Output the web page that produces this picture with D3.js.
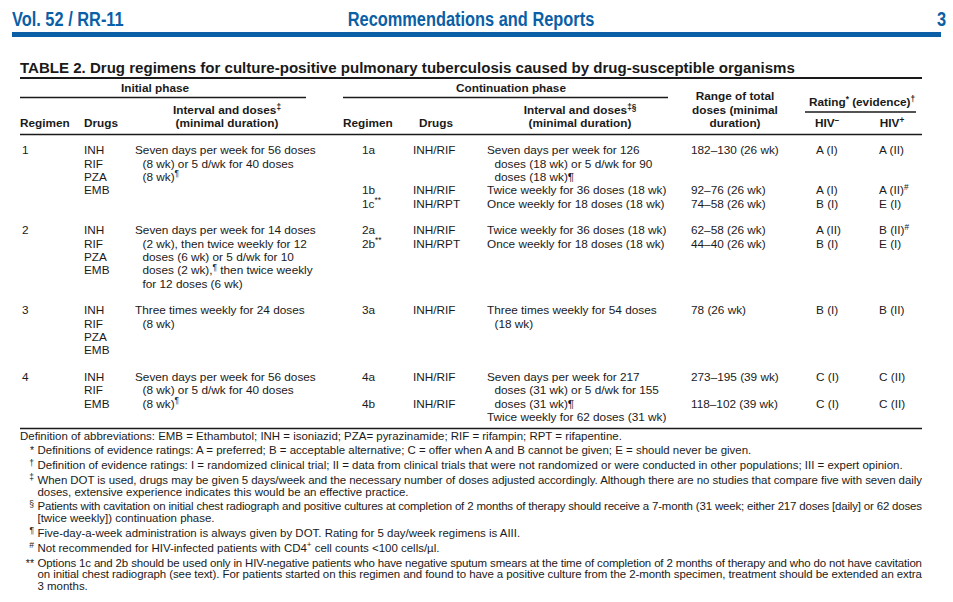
<!DOCTYPE html>
<html><head><meta charset="utf-8">
<script src="https://cdn.jsdelivr.net/npm/d3@7"></script>
<style>body{margin:0;background:#fff} svg{display:block}</style>
</head><body><svg id="c" width="953" height="602"></svg>
<script>
// ---------------- DATA ----------------
const pageHeader = ["Vol. 52 / RR-11", "Recommendations and Reports", "3"];
const tableTitle = "TABLE 2. Drug regimens for culture-positive pulmonary tuberculosis caused by drug-susceptible organisms";
const phaseLabels = ["Initial phase", "Continuation phase"];
const headInitial = [["Regimen"], ["Drugs"], ["Interval and doses{‡}", "(minimal duration)"]];
const headContinuation = [["Regimen"], ["Drugs"], ["Interval and doses{‡§}", "(minimal duration)"]];
const headRange = ["Range of total", "doses (minimal", "duration)"];
const headRating = "Rating{*} (evidence){†}";
const headHIV = ["HIV{–}", "HIV{+}"];

const regimens = ["1", "2", "3", "4"];
const initialDrugs = [["INH","RIF","PZA","EMB"], ["INH","RIF","PZA","EMB"], ["INH","RIF","PZA","EMB"], ["INH","RIF","EMB"]];
const initialIntervals = [
  ["Seven days per week for 56 doses", "(8 wk) or 5 d/wk for 40 doses", "(8 wk){¶}"],
  ["Seven days per week for 14 doses", "(2 wk), then twice weekly for 12", "doses (6 wk) or 5 d/wk for 10", "doses (2 wk),{¶} then twice weekly", "for 12 doses (6 wk)"],
  ["Three times weekly for 24 doses", "(8 wk)"],
  ["Seven days per week for 56 doses", "(8 wk) or 5 d/wk for 40 doses", "(8 wk){¶}"]
];
const contRegimens = [["1a","1b","1c{**}"], ["2a","2b{**}"], ["3a"], ["4a","4b"]];
const contDrugs = [["INH/RIF","INH/RIF","INH/RPT"], ["INH/RIF","INH/RPT"], ["INH/RIF"], ["INH/RIF","INH/RIF"]];
const contIntervals = [
  [["Seven days per week for 126", "doses (18 wk) or 5 d/wk for 90", "doses (18 wk)¶"], ["Twice weekly for 36 doses (18 wk)"], ["Once weekly for 18 doses (18 wk)"]],
  [["Twice weekly for 36 doses (18 wk)"], ["Once weekly for 18 doses (18 wk)"]],
  [["Three times weekly for 54 doses", "(18 wk)"]],
  [["Seven days per week for 217", "doses (31 wk) or 5 d/wk for 155", "doses (31 wk)¶"], ["Twice weekly for 62 doses (31 wk)"]]
];
const totalDoses = [["182–130 (26 wk)","92–76 (26 wk)","74–58 (26 wk)"], ["62–58 (26 wk)","44–40 (26 wk)"], ["78 (26 wk)"], ["273–195 (39 wk)","118–102 (39 wk)"]];
const ratingHIVneg = [["A (I)","A (I)","B (I)"], ["A (II)","B (I)"], ["B (I)"], ["C (I)","C (I)"]];
const ratingHIVpos = [["A (II)","A (II){#}","E (I)"], ["B (II){#}","E (I)"], ["B (II)"], ["C (II)","C (II)"]];
// line (within a regimen block) on which each continuation option's label / interval starts
const contLabelLine = [[0,3,4], [0,1], [0], [0,2]];
const contIntervalLine = [[0,3,4], [0,1], [0], [0,3]];

const footSymbols = ["", "*", "†", "‡", "§", "¶", "#", "**"];
const footTexts = [
  ["Definition of abbreviations: EMB = Ethambutol; INH = isoniazid; PZA= pyrazinamide; RIF = rifampin; RPT = rifapentine."],
  ["Definitions of evidence ratings: A = preferred; B = acceptable alternative; C = offer when A and B cannot be given; E = should never be given."],
  ["Definition of evidence ratings: I = randomized clinical trial; II = data from clinical trials that were not randomized or were conducted in other populations; III = expert opinion."],
  ["When DOT is used, drugs may be given 5 days/week and the necessary number of doses adjusted accordingly. Although there are no studies that compare five with seven daily", "doses, extensive experience indicates this would be an effective practice."],
  ["Patients with cavitation on initial chest radiograph and positive cultures at completion of 2 months of therapy should receive a 7-month (31 week; either 217 doses [daily] or 62 doses", "[twice weekly]) continuation phase."],
  ["Five-day-a-week administration is always given by DOT. Rating for 5 day/week regimens is AIII."],
  ["Not recommended for HIV-infected patients with CD4{+} cell counts <100 cells/µl."],
  ["Options 1c and 2b should be used only in HIV-negative patients who have negative sputum smears at the time of completion of 2 months of therapy and who do not have cavitation", "on initial chest radiograph (see text). For patients started on this regimen and found to have a positive culture from the 2-month specimen, treatment should be extended an extra", "3 months."]
];

// ---------------- LAYOUT ----------------
const svg = d3.select("#c");
svg.append("rect").attr("width", 953).attr("height", 602).attr("fill", "#fff");
const BLUE = "#0a5fa6", INK = "#1a1a1a";
const FONT = "'Liberation Sans', Arial, Helvetica, sans-serif";
const L = 20, R = 922;

function rich(sel, str, size) {
  const parts = str.split(/(\{[^}]*\})/).filter(s => s.length);
  let up = false;
  parts.forEach(p => {
    if (p[0] === "{") {
      sel.append("tspan").attr("font-size", size * 0.7).attr("dy", -size * 0.38).text(p.slice(1, -1));
      up = true;
    } else {
      const t = sel.append("tspan").text(p);
      if (up) { t.attr("dy", size * 0.38); up = false; }
    }
  });
}
function txt(g, x, y, str, opt = {}) {
  const size = opt.size || 11.2;
  const t = g.append("text").attr("x", x).attr("y", y)
    .attr("font-family", FONT).attr("font-size", size)
    .attr("font-weight", opt.bold ? "bold" : "normal")
    .attr("fill", opt.fill || INK)
    .attr("text-anchor", opt.anchor || "start");
  rich(t, str, size);
  return t;
}
function measure(str, size, bold) {
  const t = svg.append("text").attr("font-family", FONT).attr("font-size", size)
    .attr("font-weight", bold ? "bold" : "normal").text(str);
  const w = t.node().getComputedTextLength(); t.remove(); return w;
}

// calibrated sizes (width-fitting to the reference)
const BODY = 12 * 181 / measure("Seven days per week for 56 doses", 12, false);
const TITLE = 14 * 775 / measure(tableTitle, 14, true);

// page header
const hdr = svg.append("g");
const hx = d3.scaleOrdinal().domain(pageHeader).range([12, 471, 946]);
const hAnchor = ["start", "middle", "end"];
pageHeader.forEach((s, i) => {
  const t = txt(hdr, 0, 0, s, {size: 21, bold: true, fill: BLUE, anchor: hAnchor[i]});
  t.attr("transform", `translate(${hx(s)},26) scale(0.78,1)`);
});
hdr.append("rect").attr("x", 12).attr("y", 32).attr("width", 929).attr("height", 5).attr("fill", BLUE);

// title
txt(svg, L, 73, tableTitle, {size: TITLE, bold: true});
svg.append("line").attr("x1", L).attr("x2", R).attr("y1", 78).attr("y2", 78).attr("stroke", INK).attr("stroke-width", 2);

// column headers
const H = svg.append("g");
const hb = {size: BODY, bold: true};
txt(H, 155, 92, phaseLabels[0], {...hb, anchor: "middle"});
txt(H, 511, 92, phaseLabels[1], {...hb, anchor: "middle"});
H.append("line").attr("x1", L).attr("x2", 306).attr("y1", 97.5).attr("y2", 97.5).attr("stroke", INK).attr("stroke-width", 1.3);
H.append("line").attr("x1", 343).attr("x2", 668).attr("y1", 97.5).attr("y2", 97.5).attr("stroke", INK).attr("stroke-width", 1.3);
const colX = {reg: 20, drugs: 84, intv: 135, creg: 362, cdrugs: 413, cintv: 487, range: 691, neg: 816, pos: 879};
txt(H, 20, 127, headInitial[0][0], hb);
txt(H, 84, 127, headInitial[1][0], hb);
headInitial[2].forEach((s, i) => txt(H, 227, 114 + i * 13, s, {...hb, anchor: "middle"}));
txt(H, 343, 127, headContinuation[0][0], hb);
txt(H, 419, 127, headContinuation[1][0], hb);
headContinuation[2].forEach((s, i) => txt(H, 580, 114 + i * 13, s, {...hb, anchor: "middle"}));
headRange.forEach((s, i) => txt(H, 735, 100 + i * 13.5, s, {...hb, anchor: "middle"}));
txt(H, 862, 106, headRating, {...hb, anchor: "middle"});
H.append("line").attr("x1", 805).attr("x2", 916).attr("y1", 112).attr("y2", 112).attr("stroke", INK).attr("stroke-width", 1.3);
txt(H, 827, 127, headHIV[0], {...hb, anchor: "middle"});
txt(H, 892, 127, headHIV[1], {...hb, anchor: "middle"});
svg.append("line").attr("x1", L).attr("x2", R).attr("y1", 134.5).attr("y2", 134.5).attr("stroke", INK).attr("stroke-width", 1.5);

// body
const LH = 13.33;
const rowLines = regimens.map((r, i) => Math.max(
  initialDrugs[i].length, initialIntervals[i].length,
  d3.max(contIntervals[i], (c, j) => contIntervalLine[i][j] + c.length)));
const rowStart = [];
rowLines.reduce((acc, n, i) => { rowStart[i] = acc; return acc + n + 1; }, 0);
const yLine = d3.scaleLinear().domain([0, 1]).range([154.3, 154.3 + LH]);
const bo = {size: BODY};
const body = svg.append("g");
regimens.forEach((r, i) => {
  const s0 = rowStart[i];
  txt(body, 22, yLine(s0), r, bo);
  initialDrugs[i].forEach((d, k) => txt(body, colX.drugs, yLine(s0 + k), d, bo));
  initialIntervals[i].forEach((d, k) => txt(body, k ? colX.intv + 7.5 : colX.intv, yLine(s0 + k), d, bo));
  contRegimens[i].forEach((c, j) => {
    const ly = yLine(s0 + contLabelLine[i][j]);
    txt(body, colX.creg, ly, c, bo);
    txt(body, colX.cdrugs, ly, contDrugs[i][j], bo);
    txt(body, colX.range, ly, totalDoses[i][j], bo);
    txt(body, colX.neg, ly, ratingHIVneg[i][j], bo);
    txt(body, colX.pos, ly, ratingHIVpos[i][j], bo);
    contIntervals[i][j].forEach((d, k) => txt(body, k ? colX.cintv + 7.5 : colX.cintv, yLine(s0 + contIntervalLine[i][j] + k), d, bo));
  });
});
svg.append("line").attr("x1", L).attr("x2", R).attr("y1", 428.5).attr("y2", 428.5).attr("stroke", INK).attr("stroke-width", 1.5);

// footnotes (condensed, justified wrap lines)
const FS = 11.4;
const SX = 602 / measure(footTexts[0][0], FS, false);
const FX = 37.5;
const foot = svg.append("g");
let fy = 439.5;
footTexts.forEach((lines, i) => {
  const sym = footSymbols[i];
  const tx = sym ? FX : 20;
  if (sym) {
    const big = sym === "*" || sym === "**";
    foot.append("text").attr("font-family", FONT).attr("font-size", big ? 10.5 : 8.5)
      .attr("fill", INK).attr("text-anchor", "end")
      .attr("transform", `translate(${FX - 3.5},${fy - (big ? 0 : 3.5)})`).text(sym);
  }
  lines.forEach((ln, k) => {
    const t = txt(foot, 0, 0, ln, {size: FS});
    t.attr("transform", `translate(${tx},${fy + k * 11.7}) scale(${SX},1)`);
    if (k < lines.length - 1) t.attr("textLength", (R - tx) / SX).attr("lengthAdjust", "spacing");
  });
  fy += (lines.length - 1) * 11.7 + 14.8;
});
</script></body></html>
